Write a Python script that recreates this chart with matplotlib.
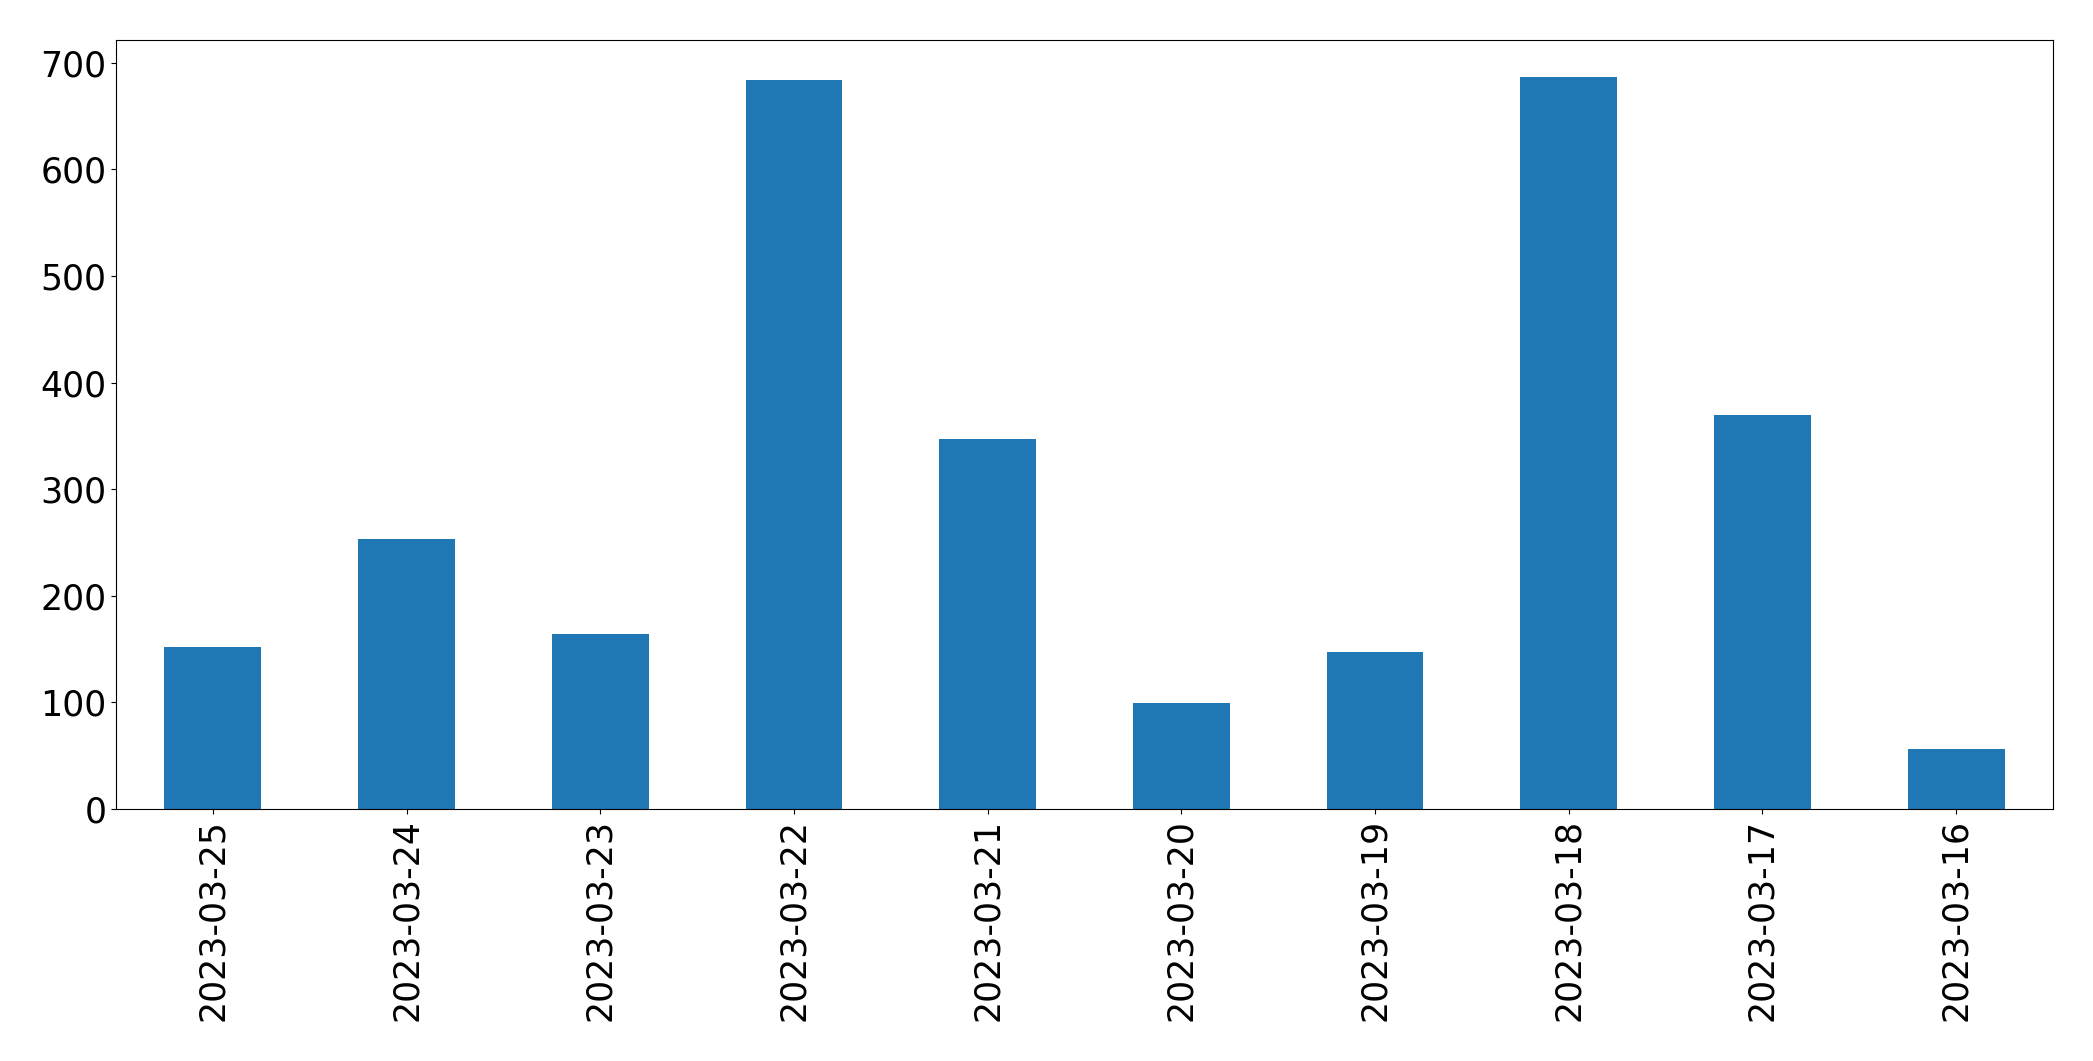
import matplotlib
matplotlib.use("Agg")
import matplotlib.pyplot as plt

dates = ["2023-03-25", "2023-03-24", "2023-03-23", "2023-03-22", "2023-03-21",
         "2023-03-20", "2023-03-19", "2023-03-18", "2023-03-17", "2023-03-16"]
counts = [152, 253, 164, 684, 347, 99, 147, 687, 370, 56]

W, H = 2093, 1061
fig = plt.figure(figsize=(W / 100, H / 100), dpi=100)
ax = fig.add_axes([116 / W, 1 - 809 / H, (2053 - 116) / W, (809 - 40) / H])

x = list(range(len(dates)))
ax.bar(x, counts, width=0.5, color="#1f77b4")
ax.set_xlim(-0.5, len(dates) - 0.5)
ax.set_ylim(0, max(counts) * 1.05)
ax.set_xticks(x)
ax.set_xticklabels(dates, rotation=90)
ax.set_yticks([0, 100, 200, 300, 400, 500, 600, 700])
ax.tick_params(axis="both", labelsize=25)

fig.savefig("out.png", dpi=100)
